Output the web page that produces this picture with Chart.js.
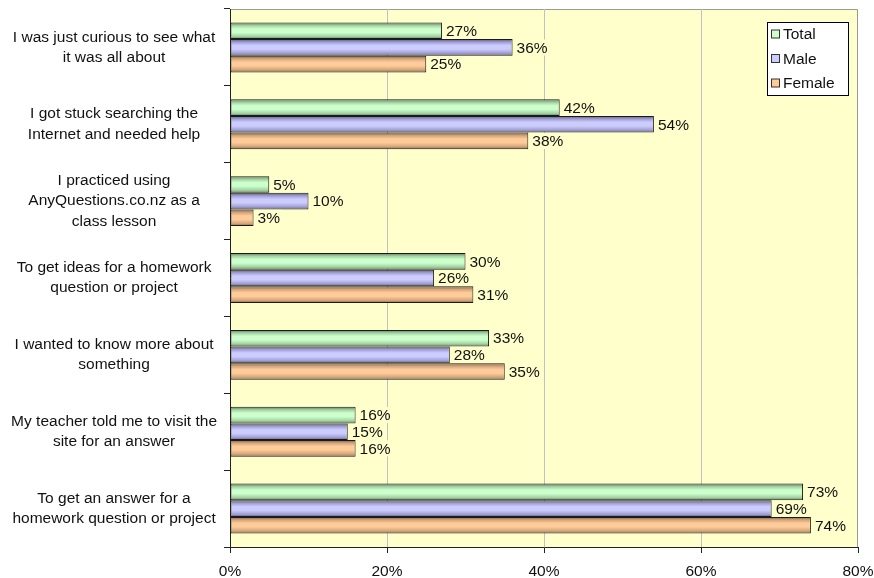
<!DOCTYPE html>
<html>
<head>
<meta charset="utf-8">
<script src="https://cdn.jsdelivr.net/npm/chart.js@4/dist/chart.umd.min.js"></script>
<style>
  html, body { margin: 0; padding: 0; background: #fff; }
  #wrap { width: 874px; height: 578px; }
</style>
</head>
<body>
<div id="wrap"><canvas id="survey" width="874" height="578"></canvas></div>
<script>
/* ---------- DATA ---------- */
const reasons = [
  ['I was just curious to see what', 'it was all about'],
  ['I got stuck searching the', 'Internet and needed help'],
  ['I practiced using', 'AnyQuestions.co.nz as a', 'class lesson'],
  ['To get ideas for a homework', 'question or project'],
  ['I wanted to know more about', 'something'],
  ['My teacher told me to visit the', 'site for an answer'],
  ['To get an answer for a', 'homework question or project']
];
const totalPct  = [27, 42, 5, 30, 33, 16, 73];
const malePct   = [36, 54, 10, 26, 28, 15, 69];
const femalePct = [25, 38, 3, 31, 35, 16, 74];
const xTicks = [0, 20, 40, 60, 80];

/* ---------- STYLE ---------- */
const FAMILY = '"Liberation Sans", Arial, sans-serif';
const FONT = '15.5px ' + FAMILY;
const TEXT = '#111';
const PLOT_BG = '#FFFFCC';

// light centre colour + darker edge colours for each series
const shades = {
  Total:  { light: '#CCFFCC', mid: '#A0D0A0', dark: '#5C765C' },
  Male:   { light: '#CCCCFF', mid: '#9E9ED2', dark: '#5A5A80' },
  Female: { light: '#FFCC99', mid: '#D2A47A', dark: '#805E44' }
};

/* ---------- PLUGINS ---------- */
const plotBackground = {
  id: 'plotBackground',
  beforeDraw(chart) {
    const { ctx, chartArea: a } = chart;
    ctx.save();
    ctx.fillStyle = PLOT_BG;
    ctx.fillRect(a.left, a.top, a.right - a.left, a.bottom - a.top);
    ctx.strokeStyle = '#9a9a9a';
    ctx.lineWidth = 1;
    ctx.beginPath();
    ctx.moveTo(a.left, a.top + 0.5);
    ctx.lineTo(a.right - 0.5, a.top + 0.5);
    ctx.lineTo(a.right - 0.5, a.bottom);
    ctx.stroke();
    ctx.restore();
  }
};

// tube-like shading across each bar
const barShading = {
  id: 'barShading',
  beforeDatasetsDraw(chart) {
    const ctx = chart.ctx;
    chart.data.datasets.forEach((ds, i) => {
      const s = shades[ds.label];
      chart.getDatasetMeta(i).data.forEach(el => {
        const top = el.y - el.height / 2;
        const g = ctx.createLinearGradient(0, top, 0, top + el.height);
        g.addColorStop(0, s.dark);
        g.addColorStop(0.18, s.mid);
        g.addColorStop(0.38, s.light);
        g.addColorStop(0.6, s.light);
        g.addColorStop(0.85, s.mid);
        g.addColorStop(1, s.dark);
        el.options = Object.assign({}, el.options, { backgroundColor: g });
      });
    });
  }
};

const valueLabels = {
  id: 'valueLabels',
  afterDatasetsDraw(chart) {
    const ctx = chart.ctx;
    ctx.save();
    ctx.font = FONT;
    ctx.textBaseline = 'middle';
    chart.data.datasets.forEach((ds, i) => {
      chart.getDatasetMeta(i).data.forEach((el, j) => {
        const txt = ds.data[j] + '%';
        const w = ctx.measureText(txt).width;
        ctx.fillStyle = PLOT_BG;
        ctx.fillRect(el.x + 2, el.y - 8, w + 4, 16);
        ctx.fillStyle = TEXT;
        ctx.fillText(txt, el.x + 4, el.y + 1);
      });
    });
    ctx.restore();
  }
};

const boxLegend = {
  id: 'boxLegend',
  afterDraw(chart) {
    const ctx = chart.ctx;
    const x = 767.5, y = 22.5, w = 81, h = 73;
    ctx.save();
    ctx.fillStyle = '#fff';
    ctx.fillRect(x, y, w, h);
    ctx.strokeStyle = '#000';
    ctx.lineWidth = 1;
    ctx.strokeRect(x, y, w, h);
    ctx.font = FONT;
    ctx.textBaseline = 'middle';
    chart.data.datasets.forEach((ds, i) => {
      const cy = 34 + i * 24.5;
      ctx.fillStyle = shades[ds.label].light;
      ctx.fillRect(771.5, cy - 4, 8, 8);
      ctx.strokeStyle = '#333';
      ctx.strokeRect(771.5, cy - 4, 8, 8);
      ctx.fillStyle = TEXT;
      ctx.fillText(ds.label, 783, cy + 1);
    });
    ctx.restore();
  }
};

/* ---------- CHART ---------- */
const series = [
  { label: 'Total', data: totalPct },
  { label: 'Male', data: malePct },
  { label: 'Female', data: femalePct }
];

new Chart(document.getElementById('survey'), {
  type: 'bar',
  data: {
    labels: reasons,
    datasets: series.map(s => ({
      label: s.label,
      data: s.data,
      backgroundColor: shades[s.label].light,
      borderColor: '#1a1a1a',
      borderWidth: 1,
      borderSkipped: false,
      categoryPercentage: 0.65,
      barPercentage: 1
    }))
  },
  options: {
    indexAxis: 'y',
    responsive: false,
    animation: false,
    layout: { padding: { top: 9, right: 16, left: 0, bottom: 0 } },
    plugins: {
      legend: { display: false },
      tooltip: { enabled: false }
    },
    scales: {
      x: {
        min: 0,
        max: 80,
        afterBuildTicks: scale => { scale.ticks = xTicks.map(v => ({ value: v })); },
        afterFit: scale => {
          scale.height = 31;
          scale.paddingLeft = 0;
          scale.paddingRight = 0;
        },
        ticks: {
          font: { family: FAMILY, size: 15.5 },
          color: TEXT,
          padding: 9,
          maxRotation: 0,
          callback: v => v + '%'
        },
        grid: {
          color: c => (c.tick && (c.tick.value === 0 || c.tick.value === 80)) ? 'rgba(0,0,0,0)' : '#c0c0c0',
          tickColor: '#222',
          tickLength: 6
        },
        border: { color: '#222', width: 1 }
      },
      y: {
        afterFit: scale => {
          scale.width = 230;
          scale.paddingTop = 0;
          scale.paddingBottom = 0;
        },
        ticks: {
          font: { family: FAMILY, size: 15.5, lineHeight: 1.3 },
          color: TEXT,
          crossAlign: 'center',
          padding: 7
        },
        grid: {
          offset: true,
          drawOnChartArea: false,
          tickColor: '#222',
          tickLength: 6
        },
        border: { color: '#222', width: 1 }
      }
    }
  },
  plugins: [plotBackground, barShading, valueLabels, boxLegend]
});
</script>
</body>
</html>
